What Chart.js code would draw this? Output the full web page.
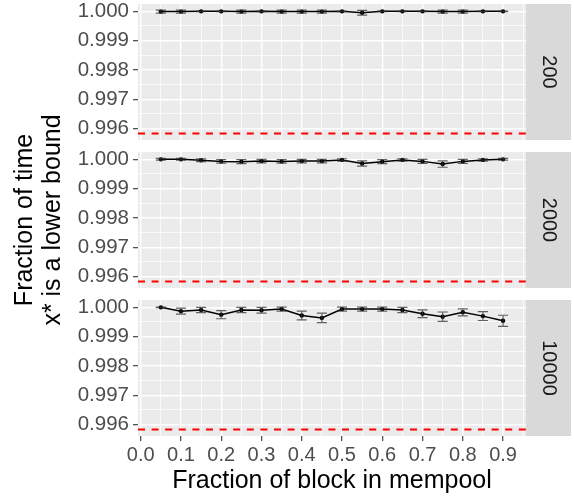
<!DOCTYPE html>
<html>
<head>
<meta charset="utf-8">
<script src="https://cdn.jsdelivr.net/npm/chart.js@4.4.0/dist/chart.umd.min.js"></script>
<style>
  html, body { margin: 0; padding: 0; background: #fff; }
  #wrap { position: relative; width: 574px; height: 501px; }
  #wrap canvas { position: absolute; left: 0; top: 0; }
</style>
</head>
<body>
<div id="wrap">
  <canvas id="panel0" width="574" height="501"></canvas>
  <canvas id="panel1" width="574" height="501"></canvas>
  <canvas id="panel2" width="574" height="501"></canvas>
</div>
<script>
// fraction of block already in the mempool
const fractions = [0.05, 0.10, 0.15, 0.20, 0.25, 0.30, 0.35, 0.40, 0.45,
                   0.50, 0.55, 0.60, 0.65, 0.70, 0.75, 0.80, 0.85, 0.90];

// mempool size 200
const mean200 = [0.99999, 0.99999, 1.00000, 1.00000, 0.99999, 1.00000, 0.99999, 0.99999, 0.99999,
                 1.00000, 0.99995, 1.00000, 1.00000, 1.00000, 0.99999, 0.99999, 1.00000, 1.00000];
const err200  = [0.00005, 0.00005, 0.00001, 0.00001, 0.00005, 0.00001, 0.00005, 0.00005, 0.00005,
                 0.00001, 0.00008, 0.00001, 0.00001, 0.00001, 0.00005, 0.00005, 0.00001, 0.00001];

// mempool size 2000
const mean2000 = [1.00000, 1.00000, 0.99997, 0.99993, 0.99992, 0.99994, 0.99993, 0.99994, 0.99994,
                  0.99998, 0.99986, 0.99992, 0.99998, 0.99993, 0.99984, 0.99993, 0.99998, 1.00000];
const err2000  = [0.00003, 0.00003, 0.000045, 0.00006, 0.00007, 0.00006, 0.00006, 0.00006, 0.00006,
                  0.00004, 0.00009, 0.00007, 0.00004, 0.00007, 0.00011, 0.00007, 0.00004, 0.00003];

// mempool size 10000
const mean10000 = [1.00000, 0.99987, 0.99991, 0.99975, 0.99991, 0.99990, 0.99994, 0.99972, 0.99964,
                   0.99994, 0.99994, 0.99994, 0.99991, 0.99978, 0.99968, 0.99983, 0.99970, 0.99954];
const err10000  = [0.00001, 0.00010, 0.00009, 0.00014, 0.00009, 0.00010, 0.00007, 0.00015, 0.00016,
                   0.00007, 0.00007, 0.00007, 0.00009, 0.00013, 0.00016, 0.00012, 0.00015, 0.00019];

const facetLabels = ['200', '2000', '10000'];
const lowerBound = 0.995833;

const xTicks = [0.0, 0.1, 0.2, 0.3, 0.4, 0.5, 0.6, 0.7, 0.8, 0.9];
const xMinor = [0.05, 0.15, 0.25, 0.35, 0.45, 0.55, 0.65, 0.75, 0.85, 0.95];
const yTicks = [0.996, 0.997, 0.998, 0.999, 1.000];
const yMinor = [0.9965, 0.9975, 0.9985, 0.9995];

const facets = [
  { means: mean200, errors: err200 },
  { means: mean2000, errors: err2000 },
  { means: mean10000, errors: err10000 }
];

const xMin = -0.0067, xMax = 0.957;
const yMin = 0.99561, yMax = 1.00025;
const panelTops = [4, 152, 300];
const panelHeight = 136;
const stripWidth = 45;

Chart.defaults.font.family = '"Liberation Sans", Arial, sans-serif';

// panel background plus the grey facet strip on the right
const facetStrip = {
  id: 'facetStrip',
  beforeDraw(chart, args, opts) {
    const { ctx, chartArea: a } = chart;
    ctx.save();
    ctx.fillStyle = '#EBEBEB';
    ctx.fillRect(a.left, a.top, a.right - a.left, a.bottom - a.top);
    ctx.fillStyle = '#D9D9D9';
    ctx.fillRect(a.right, a.top, stripWidth, a.bottom - a.top);
    ctx.translate(a.right + stripWidth / 2, (a.top + a.bottom) / 2);
    ctx.rotate(Math.PI / 2);
    ctx.fillStyle = '#1A1A1A';
    ctx.font = '20px "Liberation Sans", Arial, sans-serif';
    ctx.textAlign = 'center';
    ctx.textBaseline = 'middle';
    ctx.fillText(opts.label, 0, 0);
    ctx.restore();
  }
};

// error bars with caps, drawn from dataset 0's means/errors
const errorBars = {
  id: 'errorBars',
  afterDatasetsDraw(chart) {
    const { ctx, scales: { x, y } } = chart;
    const ds = chart.data.datasets[0];
    const half = 0.0125;
    ctx.save();
    ctx.strokeStyle = 'rgba(50,50,50,0.75)';
    ctx.lineWidth = 1.2;
    ds.errors.forEach((e, i) => {
      const xv = fractions[i], m = ds.means[i];
      const px = x.getPixelForValue(xv);
      const x0 = x.getPixelForValue(xv - half), x1 = x.getPixelForValue(xv + half);
      const yh = y.getPixelForValue(m + e), yl = y.getPixelForValue(m - e);
      ctx.beginPath();
      ctx.moveTo(x0, yh); ctx.lineTo(x1, yh);
      ctx.moveTo(px, yh); ctx.lineTo(px, yl);
      ctx.moveTo(x0, yl); ctx.lineTo(x1, yl);
      ctx.stroke();
    });
    ctx.restore();
  }
};

function sortedTicks(major, minor) {
  return major.concat(minor).sort((a, b) => a - b).map(v => ({ value: v }));
}

function makePanel(i) {
  const bottom = i === 2;
  const f = facets[i];
  new Chart(document.getElementById('panel' + i), {
    type: 'line',
    data: {
      datasets: [{
        data: fractions.map((x, j) => ({ x: x, y: f.means[j] })),
        means: f.means,
        errors: f.errors,
        borderColor: '#000000',
        borderWidth: 1.5,
        pointRadius: 2.2,
        pointBackgroundColor: '#000000',
        pointBorderWidth: 0
      }, {
        data: [{ x: xMin, y: lowerBound }, { x: xMax, y: lowerBound }],
        borderColor: '#FF0000',
        borderWidth: 1.9,
        borderDash: [7, 6.6],
        pointRadius: 0
      }]
    },
    options: {
      responsive: false,
      animation: false,
      events: [],
      layout: {
        padding: {
          left: 0, right: 574 - 526,
          top: panelTops[i],
          bottom: bottom ? 0 : 501 - panelTops[i] - panelHeight
        }
      },
      plugins: {
        legend: { display: false },
        tooltip: { enabled: false },
        facetStrip: { label: facetLabels[i] }
      },
      scales: {
        x: {
          type: 'linear',
          min: xMin,
          max: xMax,
          afterBuildTicks: s => { s.ticks = sortedTicks(xTicks, xMinor); },
          afterFit: s => { s.height = bottom ? 65 : 0; s.paddingLeft = 0; s.paddingRight = 0; },
          border: { display: false },
          grid: {
            color: '#FFFFFF',
            lineWidth: c => xMinor.includes(c.tick.value) ? 0.7 : 1.4,
            drawTicks: bottom,
            tickLength: 5,
            tickWidth: 1.1,
            tickColor: c => xMinor.includes(c.tick.value) ? 'rgba(0,0,0,0)' : '#333333'
          },
          ticks: {
            display: bottom,
            autoSkip: false,
            maxRotation: 0,
            padding: 2.5,
            color: '#4D4D4D',
            font: { size: 20 },
            callback: v => xMinor.includes(v) ? '' : v.toFixed(1)
          },
          title: {
            display: bottom,
            text: 'Fraction of block in mempool',
            color: '#000000',
            font: { size: 25 },
            padding: { top: 0, bottom: 4.5 }
          }
        },
        y: {
          type: 'linear',
          min: yMin,
          max: yMax,
          afterBuildTicks: s => { s.ticks = sortedTicks(yTicks, yMinor); },
          afterFit: s => { s.width = 138; s.paddingTop = 0; s.paddingBottom = 0; },
          border: { display: false },
          grid: {
            color: '#FFFFFF',
            lineWidth: c => yMinor.includes(c.tick.value) ? 0.7 : 1.4,
            tickLength: 5,
            tickWidth: 1.1,
            tickColor: c => yMinor.includes(c.tick.value) ? 'rgba(0,0,0,0)' : '#333333'
          },
          ticks: {
            autoSkip: false,
            padding: 4,
            color: '#4D4D4D',
            font: { size: 20.5 },
            callback: v => yMinor.includes(v) ? '' : v.toFixed(3)
          },
          title: {
            display: i === 1,
            text: ['Fraction of time', 'x* is a lower bound'],
            color: '#000000',
            font: { size: 25, lineHeight: 1.1 },
            padding: { top: 11.5, bottom: 0 }
          }
        }
      }
    },
    plugins: [facetStrip, errorBars]
  });
}

[0, 1, 2].forEach(makePanel);
</script>
</body>
</html>
